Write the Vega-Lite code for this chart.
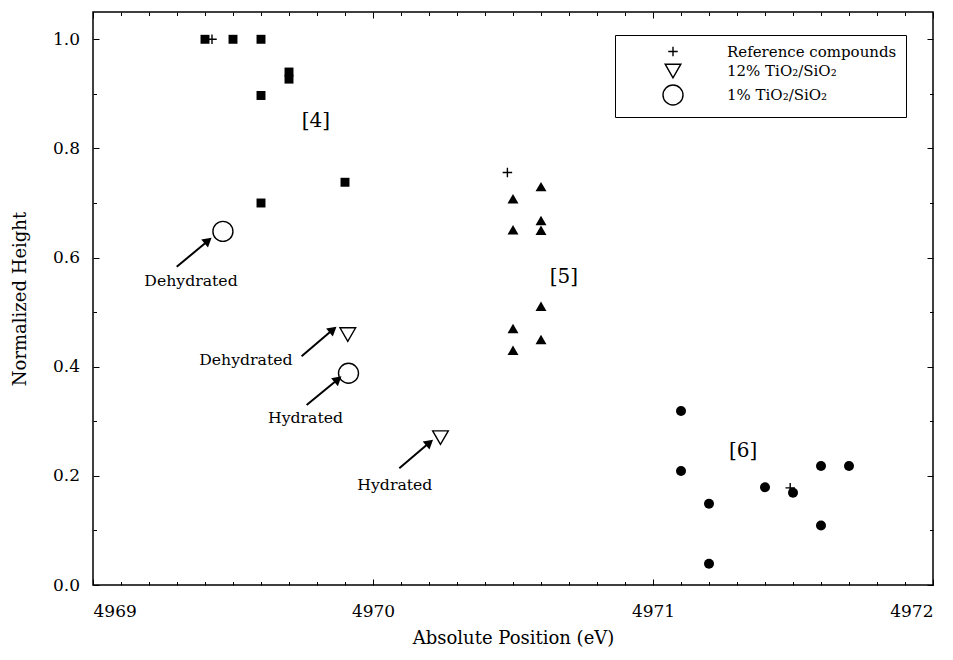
{
  "$schema": "https://vega.github.io/schema/vega-lite/v6.json",
  "width": 840,
  "height": 573,
  "autosize": {"type": "none"},
  "padding": {"left": 93, "top": 12, "right": 20, "bottom": 75},
  "background": "white",
  "config": {
    "view": {"stroke": "black", "strokeWidth": 1.5},
    "font": "DejaVu Serif",
    "axis": {
      "labelFont": "DejaVu Serif", "titleFont": "DejaVu Serif",
      "labelFontSize": 17, "titleFontSize": 18, "titleFontWeight": "normal",
      "labelColor": "black", "titleColor": "black", "tickColor": "black",
      "domain": false, "grid": false, "tickWidth": 1
    }
  },
  "datasets": {
    "filled": [
      {"x": 4969.4, "y": 1.0, "kind": "sq"},
      {"x": 4969.5, "y": 1.0, "kind": "sq"},
      {"x": 4969.6, "y": 1.0, "kind": "sq"},
      {"x": 4969.7, "y": 0.94, "kind": "sq"},
      {"x": 4969.7, "y": 0.927, "kind": "sq"},
      {"x": 4969.6, "y": 0.897, "kind": "sq"},
      {"x": 4969.9, "y": 0.738, "kind": "sq"},
      {"x": 4969.6, "y": 0.70, "kind": "sq"},
      {"x": 4970.5, "y": 0.708, "kind": "tri"},
      {"x": 4970.5, "y": 0.651, "kind": "tri"},
      {"x": 4970.5, "y": 0.470, "kind": "tri"},
      {"x": 4970.5, "y": 0.430, "kind": "tri"},
      {"x": 4970.6, "y": 0.730, "kind": "tri"},
      {"x": 4970.6, "y": 0.668, "kind": "tri"},
      {"x": 4970.6, "y": 0.650, "kind": "tri"},
      {"x": 4970.6, "y": 0.511, "kind": "tri"},
      {"x": 4970.6, "y": 0.450, "kind": "tri"},
      {"x": 4971.1, "y": 0.319, "kind": "dot"},
      {"x": 4971.1, "y": 0.209, "kind": "dot"},
      {"x": 4971.2, "y": 0.149, "kind": "dot"},
      {"x": 4971.2, "y": 0.039, "kind": "dot"},
      {"x": 4971.4, "y": 0.179, "kind": "dot"},
      {"x": 4971.5, "y": 0.169, "kind": "dot"},
      {"x": 4971.6, "y": 0.218, "kind": "dot"},
      {"x": 4971.6, "y": 0.109, "kind": "dot"},
      {"x": 4971.7, "y": 0.218, "kind": "dot"}
    ],
    "open": [
      {"x": 4969.425, "y": 1.0, "series": "Reference compounds"},
      {"x": 4970.48, "y": 0.756, "series": "Reference compounds"},
      {"x": 4971.49, "y": 0.178, "series": "Reference compounds"},
      {"x": 4969.91, "y": 0.459, "series": "12% TiO₂/SiO₂"},
      {"x": 4970.241, "y": 0.270, "series": "12% TiO₂/SiO₂"},
      {"x": 4969.464, "y": 0.648, "series": "1% TiO₂/SiO₂"},
      {"x": 4969.9125, "y": 0.388, "series": "1% TiO₂/SiO₂"}
    ],
    "arrows": [
      {"x": 4969.299, "y": 0.583, "x2": 4969.411, "y2": 0.631},
      {"x": 4969.745, "y": 0.419, "x2": 4969.857, "y2": 0.468},
      {"x": 4969.763, "y": 0.330, "x2": 4969.875, "y2": 0.377},
      {"x": 4970.094, "y": 0.214, "x2": 4970.202, "y2": 0.261}
    ],
    "notes": [
      {"x": 4969.35, "y": 0.548, "text": "Dehydrated", "kind": "state"},
      {"x": 4969.546, "y": 0.404, "text": "Dehydrated", "kind": "state"},
      {"x": 4969.759, "y": 0.296, "text": "Hydrated", "kind": "state"},
      {"x": 4970.078, "y": 0.174, "text": "Hydrated", "kind": "state"},
      {"x": 4969.796, "y": 0.839, "text": "[4]", "kind": "site"},
      {"x": 4970.682, "y": 0.5525, "text": "[5]", "kind": "site"},
      {"x": 4971.322, "y": 0.235, "text": "[6]", "kind": "site"}
    ]
  },
  "resolve": {"axis": {"x": "independent", "y": "independent"}},
  "layer": [
    {
      "data": {"name": "filled"},
      "mark": {"type": "point", "opacity": 0},
      "encoding": {
        "x": {"field": "x", "type": "quantitative",
          "scale": {"domain": [4969, 4972], "nice": false, "zero": false},
          "axis": {"orient": "top", "title": null, "labels": false,
            "values": [4969,4969.1,4969.2,4969.3,4969.4,4969.5,4969.6,4969.7,4969.8,4969.9,4970,4970.1,4970.2,4970.3,4970.4,4970.5,4970.6,4970.7,4970.8,4970.9,4971,4971.1,4971.2,4971.3,4971.4,4971.5,4971.6,4971.7,4971.8,4971.9,4972],
            "tickSize": {"condition": {"test": "abs(datum.value - round(datum.value)) < 0.001", "value": -6}, "value": -3.5}}},
        "y": {"field": "y", "type": "quantitative",
          "scale": {"domain": [0, 1.05], "nice": false, "zero": false},
          "axis": {"orient": "right", "title": null, "labels": false,
            "values": [0,0.1,0.2,0.3,0.4,0.5,0.6,0.7,0.8,0.9,1.0],
            "tickSize": {"condition": {"test": "abs(datum.value*5 - round(datum.value*5)) < 0.001", "value": -6}, "value": -3.5}}}
      }
    },
    {
      "data": {"name": "filled"},
      "transform": [{"filter": "datum.kind === 'sq'"}],
      "mark": {"type": "point", "shape": "square", "filled": true, "color": "black", "size": 80, "opacity": 1},
      "encoding": {
        "x": {"field": "x", "type": "quantitative",
          "axis": {"orient": "bottom", "title": "Absolute Position (eV)", "titlePadding": 10,
            "values": [4969,4969.1,4969.2,4969.3,4969.4,4969.5,4969.6,4969.7,4969.8,4969.9,4970,4970.1,4970.2,4970.3,4970.4,4970.5,4970.6,4970.7,4970.8,4970.9,4971,4971.1,4971.2,4971.3,4971.4,4971.5,4971.6,4971.7,4971.8,4971.9,4972],
            "labelExpr": "abs(datum.value - round(datum.value)) < 0.001 ? format(datum.value, 'd') : ''",
            "labelPadding": 24.5,
            "tickSize": {"condition": {"test": "abs(datum.value - round(datum.value)) < 0.001", "value": -6}, "value": -3.5}}},
        "y": {"field": "y", "type": "quantitative",
          "axis": {"orient": "left", "title": "Normalized Height", "titlePadding": 23,
            "values": [0,0.1,0.2,0.3,0.4,0.5,0.6,0.7,0.8,0.9,1.0],
            "labelExpr": "abs(datum.value*5 - round(datum.value*5)) < 0.001 ? format(datum.value, '.1f') : ''",
            "labelPadding": 19.5,
            "tickSize": {"condition": {"test": "abs(datum.value*5 - round(datum.value*5)) < 0.001", "value": -6}, "value": -3.5}}}
      }
    },
    {
      "data": {"name": "open"},
      "mark": {"type": "point", "filled": false, "stroke": "black", "strokeWidth": 1.4, "opacity": 1},
      "encoding": {
        "x": {"field": "x", "type": "quantitative", "axis": null},
        "y": {"field": "y", "type": "quantitative", "axis": null},
        "shape": {"field": "series", "type": "ordinal",
          "scale": {"domain": ["Reference compounds", "12% TiO₂/SiO₂", "1% TiO₂/SiO₂"], "range": ["M-1,0H1M0,-1V1", "triangle-down", "circle"]},
          "legend": {"orient": "none", "legendX": 522, "legendY": 23, "title": null,
            "strokeColor": "black", "fillColor": "white", "padding": 9,
            "labelFont": "DejaVu Serif", "labelFontSize": 15, "labelColor": "black", "labelLimit": 400,
            "symbolOffset": 38, "labelOffset": 43, "rowPadding": 1, "symbolStrokeWidth": 1.4}},
        "size": {"field": "series", "type": "ordinal",
          "scale": {"domain": ["Reference compounds", "12% TiO₂/SiO₂", "1% TiO₂/SiO₂"], "range": [90, 400, 330]}}
      }
    },
    {
      "data": {"name": "filled"},
      "transform": [{"filter": "datum.kind === 'tri'"}],
      "mark": {"type": "point", "shape": "triangle-up", "filled": true, "color": "black", "size": 120, "opacity": 1},
      "encoding": {
        "x": {"field": "x", "type": "quantitative", "axis": null},
        "y": {"field": "y", "type": "quantitative", "axis": null}
      }
    },
    {
      "data": {"name": "filled"},
      "transform": [{"filter": "datum.kind === 'dot'"}],
      "mark": {"type": "point", "shape": "circle", "filled": true, "color": "black", "size": 100, "opacity": 1},
      "encoding": {
        "x": {"field": "x", "type": "quantitative", "axis": null},
        "y": {"field": "y", "type": "quantitative", "axis": null}
      }
    },
    {
      "data": {"name": "arrows"},
      "mark": {"type": "rule", "color": "black", "strokeWidth": 2},
      "encoding": {
        "x": {"field": "x", "type": "quantitative", "axis": null},
        "y": {"field": "y", "type": "quantitative", "axis": null},
        "x2": {"field": "x2"},
        "y2": {"field": "y2"}
      }
    },
    {
      "data": {"name": "arrows"},
      "mark": {"type": "point", "shape": "triangle-up", "filled": true, "color": "black", "size": 110, "angle": 50, "opacity": 1},
      "encoding": {
        "x": {"field": "x2", "type": "quantitative", "axis": null},
        "y": {"field": "y2", "type": "quantitative", "axis": null}
      }
    },
    {
      "data": {"name": "notes"},
      "transform": [{"filter": "datum.kind === 'state'"}],
      "mark": {"type": "text", "font": "DejaVu Serif", "fontSize": 15.7, "align": "center", "baseline": "alphabetic", "color": "black"},
      "encoding": {
        "x": {"field": "x", "type": "quantitative", "axis": null},
        "y": {"field": "y", "type": "quantitative", "axis": null},
        "text": {"field": "text"}
      }
    },
    {
      "data": {"name": "notes"},
      "transform": [{"filter": "datum.kind === 'site'"}],
      "mark": {"type": "text", "font": "DejaVu Serif", "fontSize": 20, "align": "center", "baseline": "alphabetic", "color": "black"},
      "encoding": {
        "x": {"field": "x", "type": "quantitative", "axis": null},
        "y": {"field": "y", "type": "quantitative", "axis": null},
        "text": {"field": "text"}
      }
    }
  ]
}
